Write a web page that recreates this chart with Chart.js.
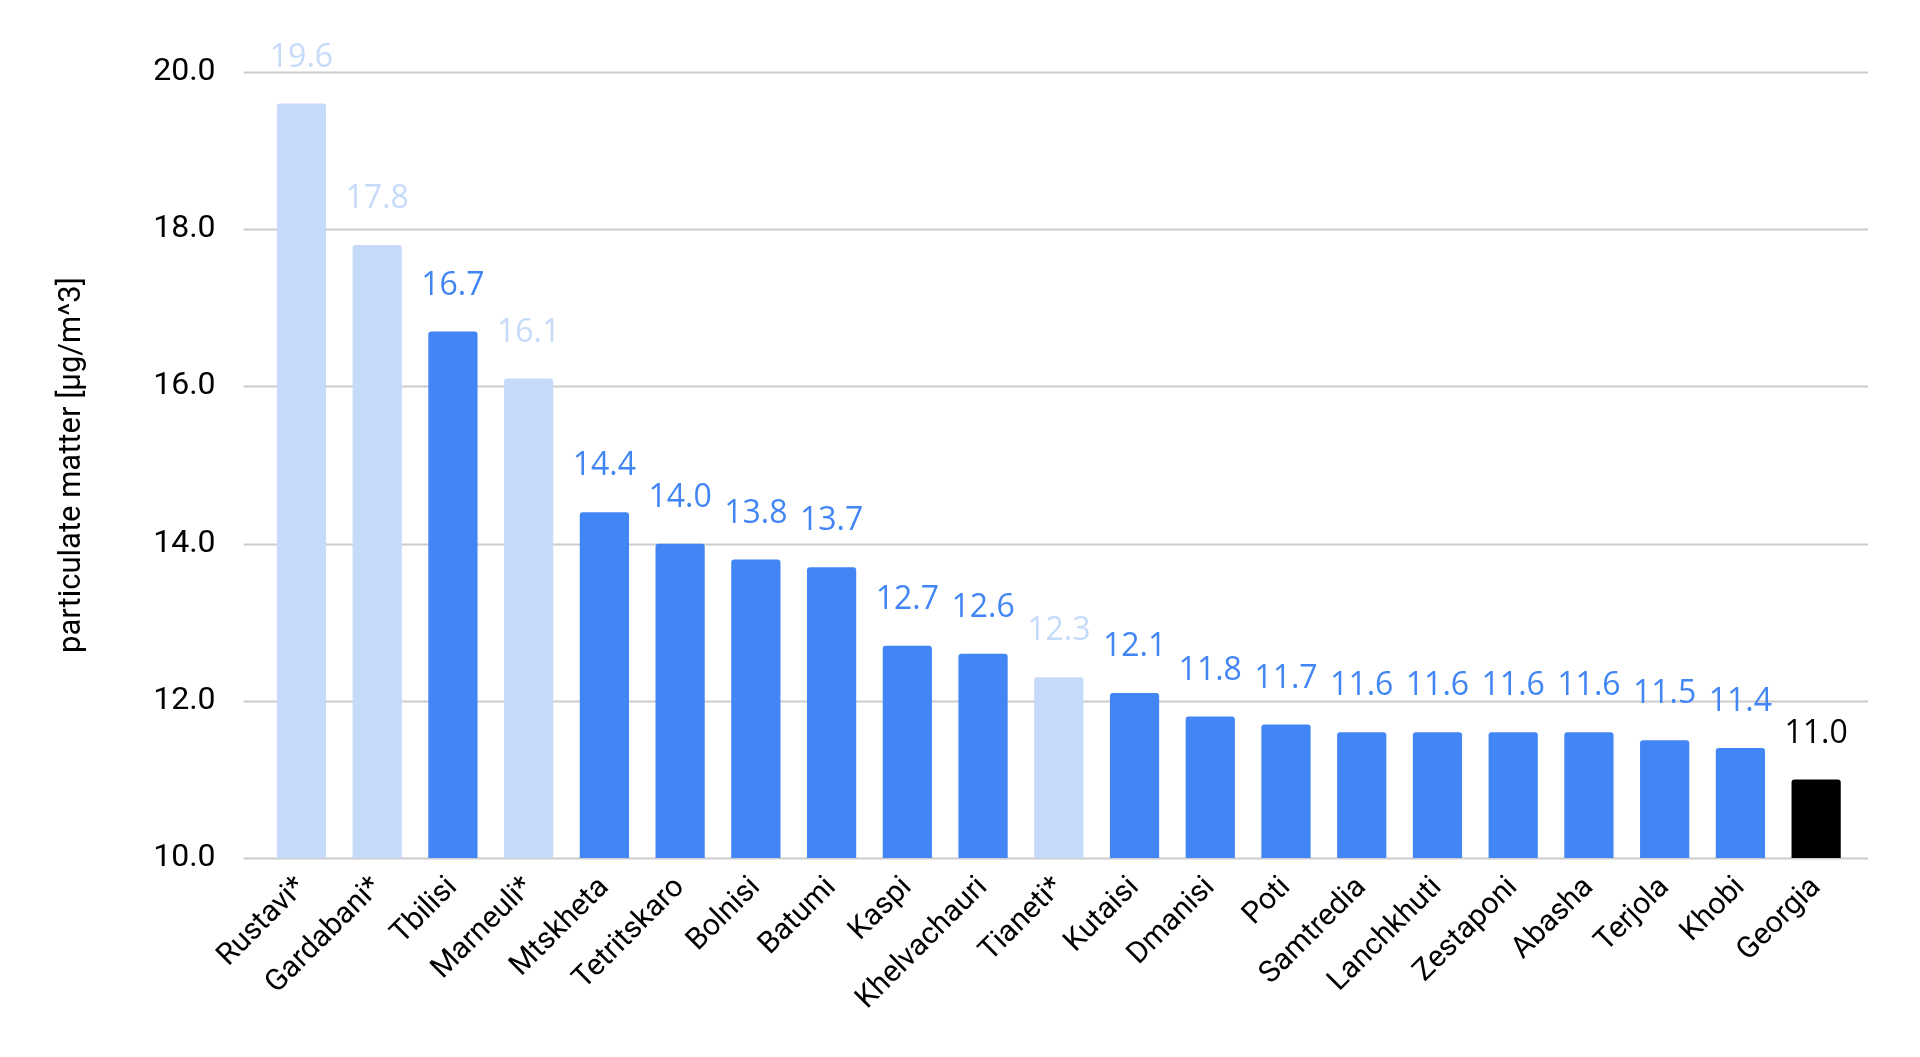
<!DOCTYPE html>
<html><head><meta charset="utf-8">
<script src="https://cdn.jsdelivr.net/npm/chart.js@4"></script>
<style>html,body{margin:0;background:#fff}#w{width:1920px;height:1057px}</style>
</head><body><div id="w"><canvas id="c"></canvas></div>
<script>
const categories=["Rustavi*","Gardabani*","Tbilisi","Marneuli*","Mtskheta","Tetritskaro","Bolnisi","Batumi","Kaspi","Khelvachauri","Tianeti*","Kutaisi","Dmanisi","Poti","Samtredia","Lanchkhuti","Zestaponi","Abasha","Terjola","Khobi","Georgia"];
const values=[19.6,17.8,16.7,16.1,14.4,14.0,13.8,13.7,12.7,12.6,12.3,12.1,11.8,11.7,11.6,11.6,11.6,11.6,11.5,11.4,11.0];
const yTicks=[10,12,14,16,18,20];
const BLUE="#4285f4",LIGHT="#c6dafa",BLACK="#000000";
const colors=categories.map(c=>c==="Georgia"?BLACK:(c.endsWith("*")?LIGHT:BLUE));
const gridPlugin={id:"gl",beforeDatasetsDraw(ch){const ctx=ch.ctx,a=ch.chartArea,y=ch.scales.y;ctx.save();ctx.strokeStyle="#cccccc";ctx.lineWidth=2;
yTicks.forEach(v=>{const p=Math.round(y.getPixelForValue(v))+0.5;ctx.beginPath();ctx.moveTo(a.left-20,p);ctx.lineTo(a.right+14,p);ctx.stroke();});ctx.restore();}};
const labelPlugin={id:"vl",afterDatasetsDraw(ch){const ctx=ch.ctx;const m=ch.getDatasetMeta(0);ctx.save();ctx.font="32px 'Open Sans', Roboto, sans-serif";ctx.textAlign="center";ctx.textBaseline="bottom";
m.data.forEach((b,i)=>{ctx.fillStyle=colors[i];ctx.fillText(values[i].toFixed(1),b.x,b.y-30);});ctx.restore();}};
new Chart(document.getElementById("c"),{type:"bar",
data:{labels:categories,datasets:[{data:values,backgroundColor:colors,borderRadius:3,borderSkipped:"bottom",barPercentage:0.65,categoryPercentage:1}]},
options:{responsive:true,maintainAspectRatio:false,animation:false,
layout:{padding:{left:50,right:66,top:72,bottom:36}},
plugins:{legend:{display:false},tooltip:{enabled:false}},
scales:{y:{min:10,max:20,afterBuildTicks:a=>{a.ticks=yTicks.map(v=>({value:v}));},
ticks:{callback:v=>v.toFixed(1),color:"#000",font:{size:32,family:"Roboto, sans-serif"},padding:40},
grid:{display:false},border:{display:false},
title:{display:true,text:"particulate matter [µg/m^3]",color:"#000",font:{size:31,family:"Roboto, sans-serif"},padding:{bottom:22}}},
x:{ticks:{maxRotation:45,minRotation:45,color:"#000",font:{size:30,family:"Roboto, sans-serif"},padding:4},grid:{display:false},border:{display:false}}}},
plugins:[gridPlugin,labelPlugin]});
</script></body></html>
